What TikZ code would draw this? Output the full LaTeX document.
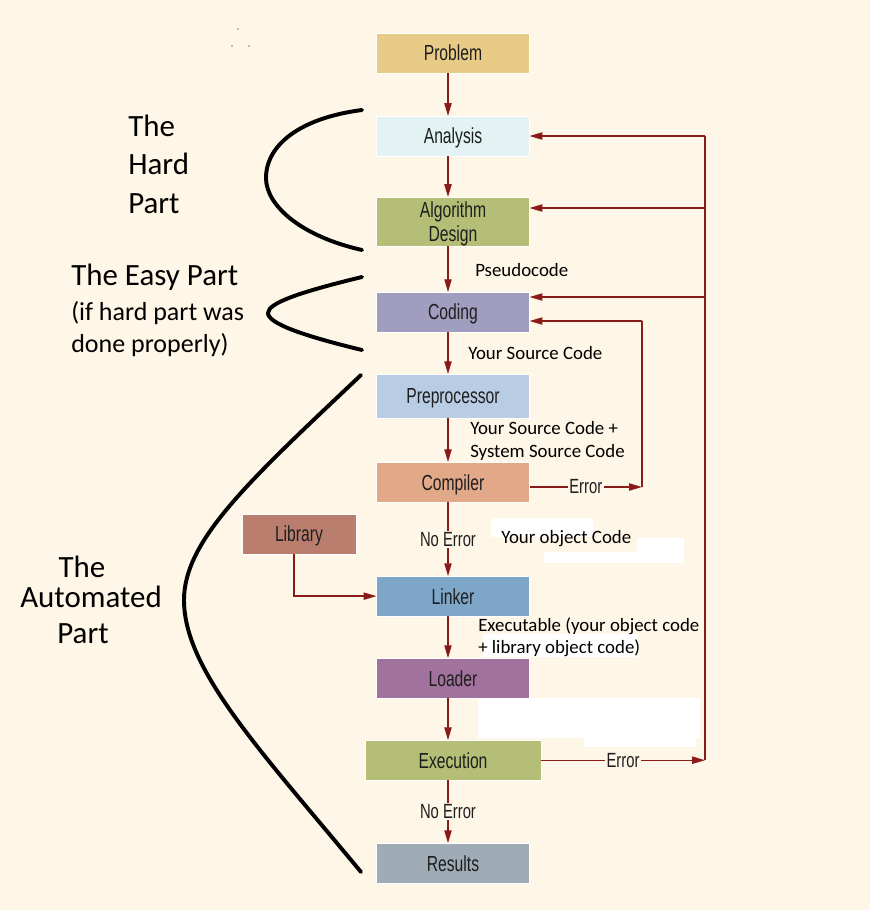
\documentclass[tikz,border=0pt]{standalone}
\usepackage{fontspec}
\setmainfont{Carlito}
\newfontfamily\boxfont[FakeStretch=0.72]{Liberation Sans}
\usepackage{xcolor}
\usepackage{tikz}
\usetikzlibrary{arrows.meta,
                positioning}

\definecolor{bg}{HTML}{FEF6E6}
\definecolor{arrowred}{HTML}{8B1A1A}
\definecolor{boxtext}{HTML}{1E1E1E}
\definecolor{cproblem}{HTML}{E8CB86}
\definecolor{canalysis}{HTML}{E3F3F3}
\definecolor{cdesign}{HTML}{B5BE76}
\definecolor{ccoding}{HTML}{A09DBF}
\definecolor{cprep}{HTML}{B8CCE4}
\definecolor{ccompiler}{HTML}{E2A988}
\definecolor{clibrary}{HTML}{B97E6D}
\definecolor{clinker}{HTML}{7EA6C8}
\definecolor{cloader}{HTML}{A1729D}
\definecolor{cresults}{HTML}{A0ACB5}

\tikzstyle{box} = [draw=white, line width=0.6pt, minimum width=3.825cm, minimum height=1cm,
                   inner sep=1pt, outer sep=0pt, align=center, text=boxtext, text depth=0pt,
                   font=\boxfont\fontsize{15.5}{16.5}\selectfont]
\tikzstyle{arrow} = [arrowred, line width=0.95pt, -{Triangle[length=0.32cm,width=0.18cm]}]
\tikzstyle{feedline} = [arrowred, line width=0.95pt]
\tikzstyle{flowlabel} = [fill=bg, inner sep=1pt, text=boxtext,
                         font=\boxfont\fontsize{14.6}{16}\selectfont]
\tikzstyle{note} = [anchor=base west, inner sep=0pt, font=\fontsize{13.4}{16}\selectfont]
\tikzstyle{bignote} = [inner sep=0pt, font=\fontsize{22}{27}\selectfont]
\tikzstyle{midnote} = [anchor=base west, inner sep=0pt, font=\fontsize{18.5}{22}\selectfont]
\tikzstyle{brace} = [line width=2.8pt, line cap=round]
\tikzstyle{patch} = [fill=white]

\begin{document}
\begin{tikzpicture}[x=0.025cm, y=-0.025cm]
    % background and the white patches
    \path[use as bounding box, fill=bg] (0,0) rectangle (870,910);
    \fill[patch] (491,518) rectangle (593,537);
    \fill[patch] (637,538) rectangle (684,552);
    \fill[patch] (544,552) rectangle (684,563);
    \fill[patch] (483,634) rectangle (638,657);
    \fill[patch] (478,698) rectangle (700,738);
    \fill[patch] (584,738) rectangle (696,747);
    \fill (238,29) circle (0.5pt);
    \fill (232,46) circle (0.5pt);
    \fill (249,46) circle (0.5pt);

    % the steps
    \node[box, fill=cproblem] (prob) at (453,53) {Problem};
    \node[box, fill=canalysis] (anal) [below=1.075cm of prob] {Analysis};
    \node[box, fill=cdesign, minimum height=1.225cm] (algo) [below=1.025cm of anal] {Algorithm\\Design};
    \node[box, fill=ccoding] (code) [below=1.15cm of algo] {Coding};
    \node[box, fill=cprep, minimum height=1.1cm] (prep) [below=1.05cm of code] {Preprocessor};
    \node[box, fill=ccompiler] (comp) [below=1.1cm of prep] {Compiler};
    \node[box, fill=clinker] (link) [below=1.85cm of comp] {Linker};
    \node[box, fill=cloader] (load) [below=1.05cm of link] {Loader};
    \node[box, fill=cdesign, minimum width=4.4cm] (exec) [below=1.05cm of load] {Execution};
    \node[box, fill=cresults] (res) [below=1.575cm of exec] {Results};
    \node[box, fill=clibrary, minimum width=2.85cm] (lib) at (299,534) {Library};

    \foreach \a/\b in {prob/anal, anal/algo, algo/code, code/prep, prep/comp, link/load, load/exec}
        \draw [arrow] ([xshift=-0.125cm]\a.south) -- ([xshift=-0.125cm]\b.north);
    \draw [arrow] ([xshift=-0.125cm]comp.south) -- node[flowlabel] {No Error} ([xshift=-0.125cm]link.north);
    \draw [arrow] ([xshift=-0.125cm]exec.south) -- node[flowlabel] {No Error} ([xshift=-0.125cm]res.north);
    \draw [arrow] ([xshift=-0.125cm]lib.south) |- (link.west);

    % feedback on errors
    \coordinate (fbright) at (705,136);
    \coordinate (fbexec) at (exec.east -| fbright);
    \coordinate (fbanal) at (705,136);
    \coordinate (fbalgo) at (705,208);
    \coordinate (fbcode) at (705,297);
    \coordinate (fbcomp) at (642,487);
    \coordinate (fbfix) at (642,321);
    \draw [arrow] (exec.east) -- node[flowlabel] {Error} (fbexec);
    \draw [feedline] (fbexec) -- (fbanal);
    \draw [arrow] (fbanal) -- (fbanal -| anal.east);
    \draw [arrow] (fbalgo) -- (fbalgo -| algo.east);
    \draw [arrow] (fbcode) -- (fbcode -| code.east);
    \draw [arrow] (fbcomp -| comp.east) -- node[flowlabel] {Error} (fbcomp);
    \draw [feedline] (fbcomp) -- (fbfix);
    \draw [arrow] (fbfix) -- (fbfix -| code.east);

    % what flows between the steps
    \node[note] (pseudo) at (475,276) {Pseudocode};
    \node[note] (src) at (468,359) {Your Source Code};
    \node[note] (src1) at (470,434) {Your Source Code +};
    \node[note] (src2) at (470,457) {System Source Code};
    \node[note] (obj) at (501,543) {Your object Code};
    \node[note] (exe1) at (478,631) {Executable (your object code};
    \node[note] (exe2) at (478,653) {+ library object code)};

    % the three parts
    \draw [brace] (362,110) .. controls (300,118) and (266,145) .. (266,178)
                  .. controls (266,205) and (300,236) .. (362,250);
    \draw [brace] (362,277) .. controls (300,292) and (268,303) .. (268,313)
                  .. controls (268,323) and (300,335) .. (362,350);
    \draw [brace] (361,375) .. controls (250,480) and (184,540) .. (184,600)
                  .. controls (184,670) and (260,750) .. (361,872);
    \node[bignote, anchor=base west] (hard1) at (128,136) {The};
    \node[bignote, anchor=base west] (hard2) at (128,174) {Hard};
    \node[bignote, anchor=base west] (hard3) at (128,213) {Part};
    \node[bignote, anchor=base west] (easy1) at (71,285) {The Easy Part};
    \node[midnote] (easy2) at (71,320) {(if hard part was};
    \node[midnote] (easy3) at (71,352) {done properly)};
    \node[bignote, anchor=base] (auto1) at (82,577) {The};
    \node[bignote, anchor=base] (auto2) at (91,607) {Automated};
    \node[bignote, anchor=base] (auto3) at (83,643) {Part};
\end{tikzpicture}
\end{document}
